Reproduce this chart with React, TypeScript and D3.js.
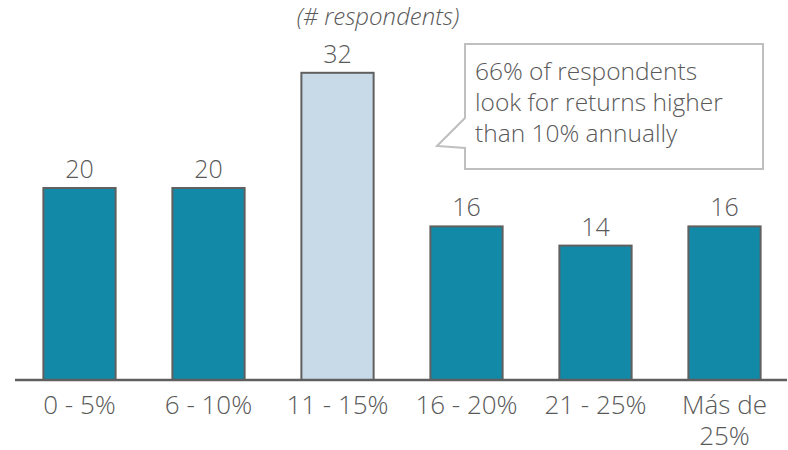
import * as d3 from "d3";

const categories = ["0 - 5%", "6 - 10%", "11 - 15%", "16 - 20%", "21 - 25%", "Más de|25%"];
const values = [20, 20, 32, 16, 14, 16];
const highlighted = [false, false, true, false, false, false];
const subtitle = "(# respondents)";
const calloutLines = ["66% of respondents", "look for returns higher", "than 10% annually"];

const W = 788;
const H = 450;
const FONT = "'Open Sans', 'Noto Sans', sans-serif";
const TEXT = "#595959";

export default function App() {
  const baseY = 380;
  const x = d3.scaleBand<string>()
    .domain(categories)
    .range([15, 789])
    .paddingInner(0.44)
    .paddingOuter(0.22);
  const y = d3.scaleLinear().domain([0, 20]).range([baseY, 188]);

  // callout box + pointer
  const bx0 = 465, bx1 = 763, by0 = 44, by1 = 169;
  const calloutPath = [
    `M${bx0},${by0}`,
    `L${bx1},${by0}`,
    `L${bx1},${by1}`,
    `L${bx0},${by1}`,
    `L${bx0},148`,
    `L437,146`,
    `L${bx0},118`,
    "Z",
  ].join(" ");

  return (
    <svg
      width={W}
      height={H}
      style={{ position: "absolute", left: 0, top: 0, background: "#fff" }}
      fontFamily={FONT}
      fontWeight={300}
    >
      <text x={378} y={25} textAnchor="middle" fontSize={24} fontStyle="italic" fill={TEXT}>
        {subtitle}
      </text>

      {categories.map((c, i) => {
        const v = values[i];
        const x0 = x(c) as number;
        return (
          <g key={c}>
            <rect
              x={x0}
              y={y(v)}
              width={x.bandwidth()}
              height={baseY - y(v)}
              fill={highlighted[i] ? "#c8dae7" : "#1289a7"}
              stroke="#606060"
              strokeWidth={2}
            />
            <text
              x={x0 + x.bandwidth() / 2}
              y={y(v) - 10}
              textAnchor="middle"
              fontSize={25}
              fill={TEXT}
            >
              {v}
            </text>
            {c.split("|").map((line, j) => (
              <text
                key={j}
                x={x0 + x.bandwidth() / 2}
                y={414 + j * 31}
                textAnchor="middle"
                fontSize={26}
                fill={TEXT}
              >
                {line}
              </text>
            ))}
          </g>
        );
      })}

      <line x1={15} x2={787} y1={baseY} y2={baseY} stroke="#5f5f5f" strokeWidth={2.5} />

      <path d={calloutPath} fill="#fff" stroke="#bfbfbf" strokeWidth={2} />
      {calloutLines.map((l, i) => (
        <text key={i} x={475} y={80 + i * 31} fontSize={24.5} fill={TEXT}>
          {l}
        </text>
      ))}
    </svg>
  );
}
